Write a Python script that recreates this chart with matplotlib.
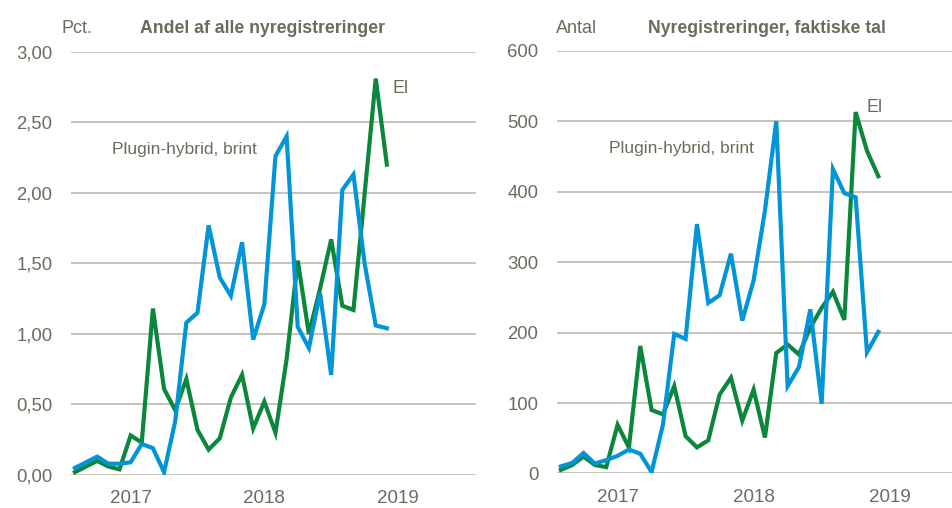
import matplotlib
matplotlib.use("Agg")
import matplotlib.pyplot as plt

# Monthly data, Aug 2016 - Dec 2018
months = list(range(29))
year_pos = [5, 17, 29]
year_labels = ["2017", "2018", "2019"]

# Andel af alle nyregistreringer (pct.)
el_pct = [0.02, 0.06, 0.10, 0.06, 0.04, 0.28, 0.23, 1.18, 0.61, 0.46, 0.68, 0.32,
          0.18, 0.26, 0.55, 0.71, 0.33, 0.52, 0.30, 0.82, 1.52, 1.00, 1.32, 1.67,
          1.20, 1.17, 1.99, 2.81, 2.20]
plugin_pct = [0.05, 0.09, 0.13, 0.08, 0.08, 0.09, 0.22, 0.19, 0.02, 0.38, 1.08, 1.15,
              1.77, 1.40, 1.27, 1.65, 0.96, 1.21, 2.26, 2.40, 1.05, 0.90, 1.29, 0.71,
              2.02, 2.13, 1.50, 1.06, 1.04]

# Nyregistreringer, faktiske tal (antal)
el_antal = [5, 12, 24, 12, 9, 69, 37, 181, 90, 84, 124, 53, 37, 47, 112, 136, 75,
            119, 51, 171, 183, 169, 207, 235, 258, 218, 513, 458, 422]
plugin_antal = [10, 15, 29, 14, 19, 25, 34, 28, 2, 69, 198, 191, 354, 242, 253, 312,
                217, 274, 373, 500, 124, 151, 233, 99, 432, 398, 392, 172, 201]

green = "#0a873c"
blue = "#0095d8"
txt = "#6c6b5c"
grid = "#bdbaad"

plt.rcParams["font.family"] = ["Liberation Sans", "DejaVu Sans"]

fig = plt.figure(figsize=(9.52, 5.08), dpi=100)


def panel(rect, xmax, el, plugin, ymax, yticks, ylabels, unit, title,
          plug_xy, el_xy, unit_x, title_x):
    ax = fig.add_axes(rect)
    ax.plot(months, el, color=green, lw=3, solid_joinstyle="miter", zorder=3)
    ax.plot(months, plugin, color=blue, lw=3, solid_joinstyle="miter", zorder=3)
    ax.set_xlim(-0.35, xmax)
    ax.set_ylim(0, ymax)
    ax.set_yticks(yticks)
    ax.set_yticklabels(ylabels)
    ax.set_xticks(year_pos)
    ax.set_xticklabels(year_labels)
    for v in yticks:
        ax.axhline(v, color=grid, lw=1.2, zorder=1)
    for s in ax.spines.values():
        s.set_visible(False)
    ax.tick_params(length=0, labelcolor=txt)
    ax.tick_params(axis="y", labelsize=13.3, pad=13.5)
    ax.tick_params(axis="x", labelsize=13.5, pad=11)
    ax.text(plug_xy[0], plug_xy[1], "Plugin-hybrid, brint", color=txt,
            fontsize=12.5, va="center", ha="left")
    ax.text(el_xy[0], el_xy[1], "El", color=txt, fontsize=13,
            va="center", ha="left")
    fig.text(unit_x, 0.944, unit, color=txt, fontsize=13, va="center")
    fig.text(title_x, 0.944, title, color=txt, fontsize=12.7,
             fontweight="bold", va="center")
    return ax


panel([0.0746, 0.065, 0.4254, 0.833], 36.0, el_pct, plugin_pct, 3.0,
      [0, 0.5, 1.0, 1.5, 2.0, 2.5, 3.0],
      ["0,00", "0,50", "1,00", "1,50", "2,00", "2,50", "3,00"],
      "Pct.", "Andel af alle nyregistreringer",
      (3.3, 2.31), (28.5, 2.74), 0.065, 0.147)

panel([0.585, 0.068, 0.415, 0.832], 34.5, el_antal, plugin_antal, 600,
      [0, 100, 200, 300, 400, 500, 600],
      ["0", "100", "200", "300", "400", "500", "600"],
      "Antal", "Nyregistreringer, faktiske tal",
      (4.2, 461), (27.0, 520), 0.584, 0.681)

fig.savefig("out.png", dpi=100)
